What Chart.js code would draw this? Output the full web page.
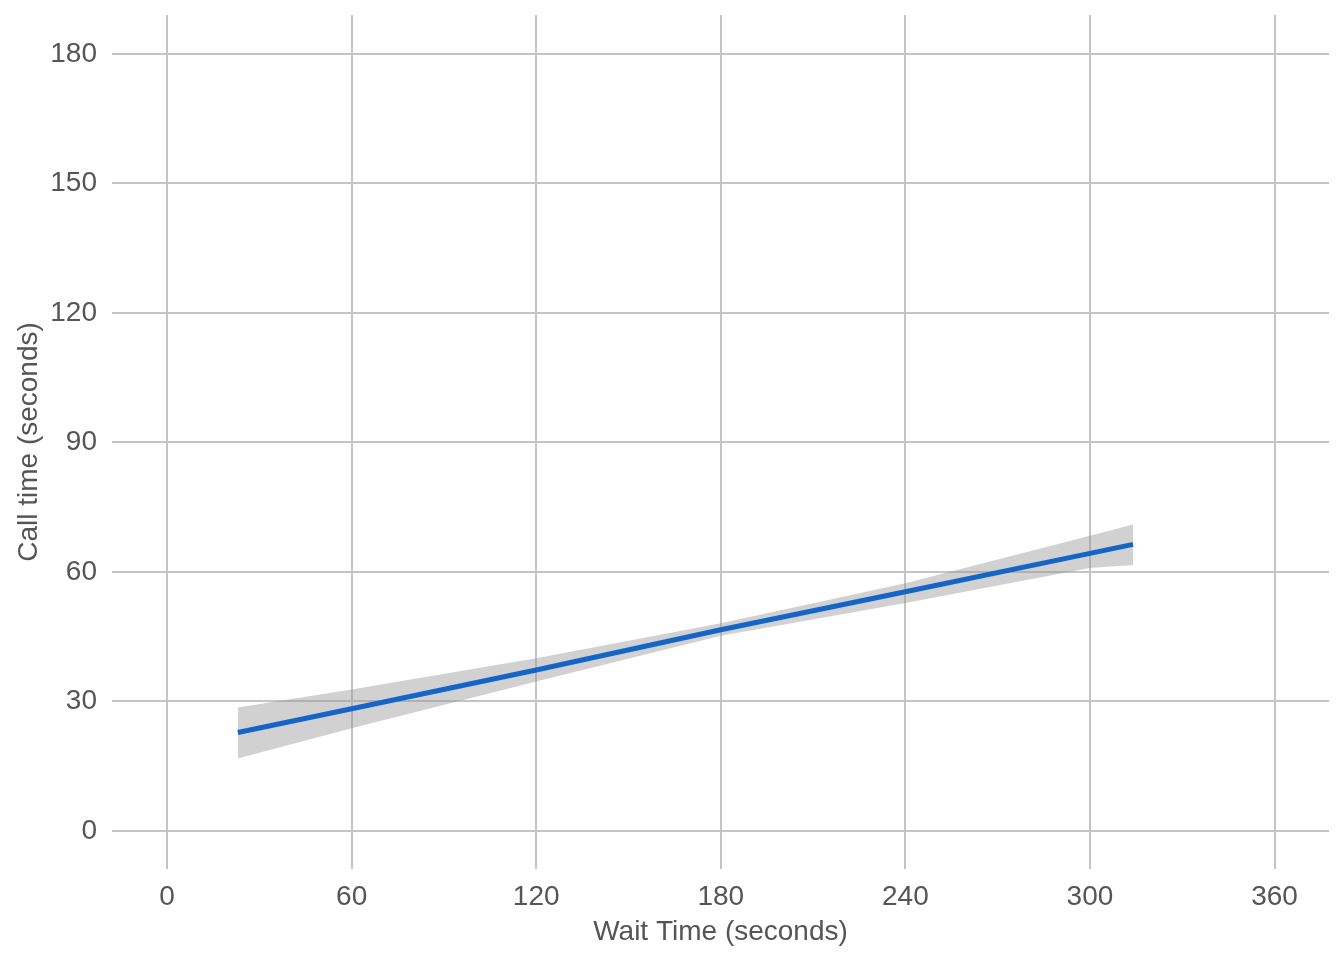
<!DOCTYPE html>
<html>
<head>
<meta charset="utf-8">
<script src="https://cdn.jsdelivr.net/npm/chart.js@4/dist/chart.umd.min.js"></script>
<style>
  html, body { margin: 0; padding: 0; background: #ffffff; }
  #wrap { width: 1344px; height: 960px; position: relative; }
</style>
</head>
<body>
<div id="wrap"><canvas id="chart"></canvas></div>
<script>
// 대기 시간(초)에 따른 통화 시간 회귀선 + 신뢰구간
const waitSec = [23, 60, 120, 180, 240, 300, 314];
const fitCall = [22.8, 28.3, 37.3, 46.6, 55.4, 64.3, 66.4];
const upperCall = [28.6, 32.8, 40.0, 48.1, 57.4, 68.4, 71.0];
const lowerCall = [16.8, 23.8, 34.6, 45.2, 52.8, 60.9, 61.6];

const xTicks = [0, 60, 120, 180, 240, 300, 360];
const yTicks = [0, 30, 60, 90, 120, 150, 180];

const FONT = "'Liberation Sans', Arial, Helvetica, sans-serif";
const TEXT = "#555555";
const GRID = "#c4c4c4";

const pts = (ys) => waitSec.map((x, i) => ({ x, y: ys[i] }));

new Chart(document.getElementById("chart"), {
  type: "line",
  data: {
    datasets: [
      { // 아래 경계
        data: pts(lowerCall),
        borderWidth: 0,
        pointRadius: 0,
        fill: false,
        tension: 0,
        order: 2,
      },
      { // 위 경계 — 아래 경계까지 채워 띠를 만든다
        data: pts(upperCall),
        borderWidth: 0,
        pointRadius: 0,
        backgroundColor: "rgba(153,153,153,0.45)",
        fill: "-1",
        tension: 0,
        order: 1,
      },
      { // 회귀선 (order가 작을수록 위에 그려진다)
        data: pts(fitCall),
        borderColor: "#1565c8",
        borderWidth: 5,
        pointRadius: 0,
        fill: false,
        tension: 0,
        order: 0,
      },
    ],
  },
  options: {
    responsive: true,
    maintainAspectRatio: false,
    animation: false,
    layout: { padding: { top: 15, right: 15, left: 12, bottom: 11 } },
    plugins: { legend: { display: false }, tooltip: { enabled: false } },
    scales: {
      x: {
        type: "linear",
        min: -17.9,
        max: 377.7,
        afterBuildTicks: (s) => { s.ticks = xTicks.map((v) => ({ value: v })); },
        afterFit: (s) => { s.height = 80; s.paddingLeft = 0; s.paddingRight = 0; },
        border: { display: false },
        grid: { color: GRID, lineWidth: 2, drawTicks: false },
        ticks: { color: TEXT, font: { family: FONT, size: 28 }, padding: 11, maxRotation: 0 },
        title: {
          display: true,
          text: "Wait Time (seconds)",
          color: TEXT,
          font: { family: FONT, size: 28 },
          padding: { top: 0, bottom: 0 },
        },
      },
      y: {
        type: "linear",
        min: -8.8,
        max: 189,
        afterBuildTicks: (s) => { s.ticks = yTicks.map((v) => ({ value: v })); },
        // 위쪽 여백은 layout.padding으로만 잡는다
        afterFit: (s) => { s.width = 100; s.paddingTop = 0; s.paddingBottom = 0; },
        border: { display: false },
        grid: { color: GRID, lineWidth: 2, drawTicks: false },
        ticks: { color: TEXT, font: { family: FONT, size: 28 }, padding: 15 },
        title: {
          display: true,
          text: "Call time (seconds)",
          color: TEXT,
          font: { family: FONT, size: 28 },
          padding: { top: 0, bottom: 0 },
        },
      },
    },
  },
});
</script>
</body>
</html>
